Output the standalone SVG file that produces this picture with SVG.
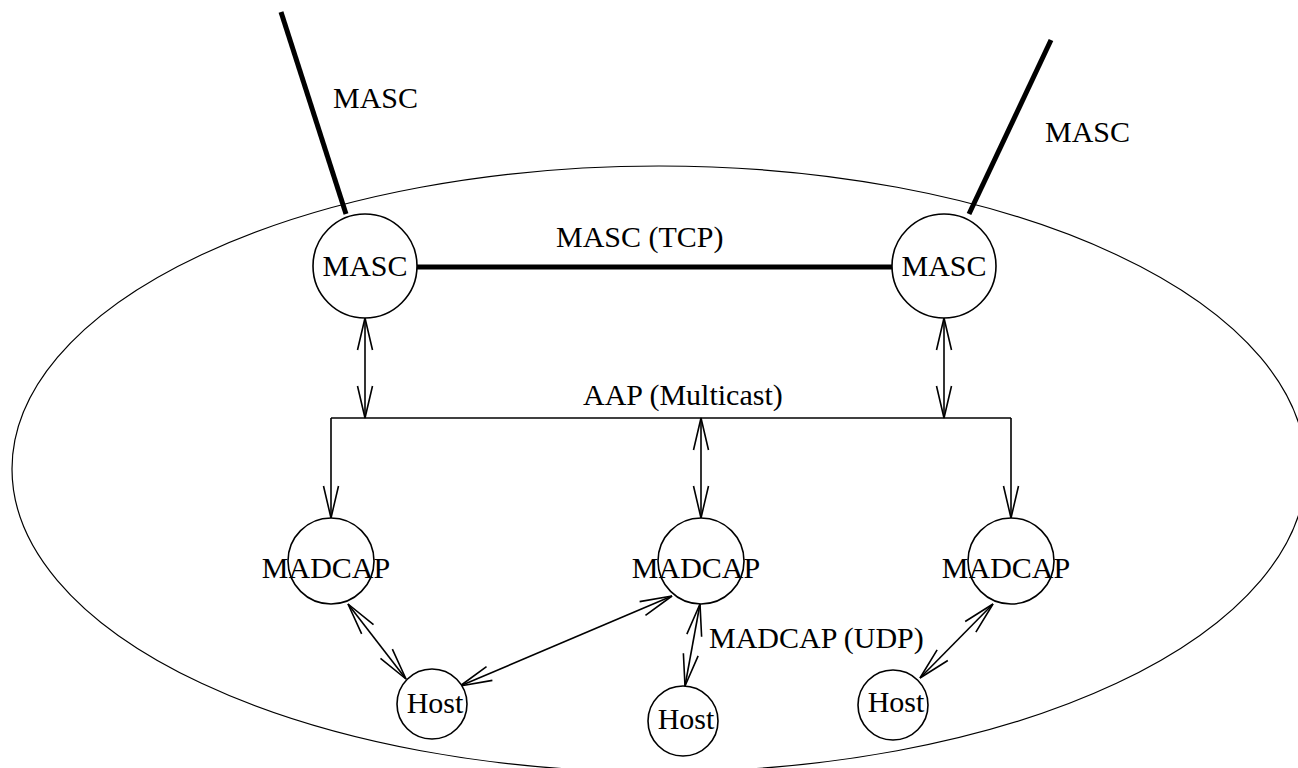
<svg xmlns="http://www.w3.org/2000/svg" width="1298" height="768" viewBox="0 0 1298 768">
<style>
text{font-family:"Liberation Serif","Times New Roman",serif;font-size:30px;fill:#000}
.n{fill:#fff;stroke:#000;stroke-width:1.6}
.thin{stroke:#000;stroke-width:1.6;fill:none}
.thick{stroke:#000;stroke-width:5;fill:none}
.arr{marker-start:url(#ah);marker-end:url(#ah)}
.one{marker-end:url(#ah)}
</style>
<defs>
<marker id="ah" markerUnits="userSpaceOnUse" orient="auto-start-reverse" markerWidth="40" markerHeight="20" viewBox="-36 -10 40 20" refX="0" refY="0" overflow="visible">
<path d="M-32,-7.5 L0,0 L-32,7.5" fill="none" stroke="#000" stroke-width="1.6"/>
</marker>
</defs>
<rect width="1298" height="768" fill="#fff"/>
<ellipse id="domain" cx="659" cy="469" rx="647" ry="303" fill="none" stroke="#000" stroke-width="1.2"/>
<g id="connectors">
<line class="thick" x1="346" y1="214" x2="281" y2="12"/>
<line class="thick" x1="969" y1="214" x2="1051" y2="40"/>
<line class="thick" x1="417" y1="267" x2="892" y2="267"/>
<polyline class="thin" points="331,418 1011,418"/>
<line class="thin one" x1="331" y1="418" x2="331" y2="518"/>
<line class="thin one" x1="1011" y1="418" x2="1011" y2="518"/>
<line class="thin arr" x1="365" y1="318" x2="365" y2="418"/>
<line class="thin arr" x1="944" y1="318" x2="944" y2="418"/>
<line class="thin arr" x1="701" y1="418" x2="701" y2="518"/>
<line class="thin arr" x1="348" y1="604" x2="406" y2="679"/>
<line class="thin arr" x1="672" y1="596" x2="460" y2="686"/>
<line class="thin arr" x1="700" y1="604" x2="685" y2="686"/>
<line class="thin arr" x1="993" y1="604" x2="920" y2="678"/>
</g>
<g id="labels">
<text x="333" y="108">MASC</text>
<text x="1045" y="142">MASC</text>
<text x="556" y="247">MASC (TCP)</text>
<text x="583" y="405">AAP (Multicast)</text>
<text x="709" y="648">MADCAP (UDP)</text>
</g>
<g id="masc-left"><circle class="n" cx="365" cy="266" r="52"/><text x="365" y="276" text-anchor="middle">MASC</text></g>
<g id="masc-right"><circle class="n" cx="944" cy="266" r="52"/><text x="944" y="276" text-anchor="middle">MASC</text></g>
<g id="madcap-left"><circle class="n" cx="331" cy="561" r="43"/><text x="326" y="578" text-anchor="middle">MADCAP</text></g>
<g id="madcap-mid"><circle class="n" cx="701" cy="561" r="43"/><text x="696" y="578" text-anchor="middle">MADCAP</text></g>
<g id="madcap-right"><circle class="n" cx="1011" cy="561" r="43"/><text x="1006" y="578" text-anchor="middle">MADCAP</text></g>
<g id="host-left"><circle class="n" cx="432" cy="704" r="35"/><text x="435" y="713" text-anchor="middle">Host</text></g>
<g id="host-mid"><circle class="n" cx="683" cy="721" r="35"/><text x="686" y="729" text-anchor="middle">Host</text></g>
<g id="host-right"><circle class="n" cx="893" cy="705" r="35"/><text x="896" y="712" text-anchor="middle">Host</text></g>
</svg>
